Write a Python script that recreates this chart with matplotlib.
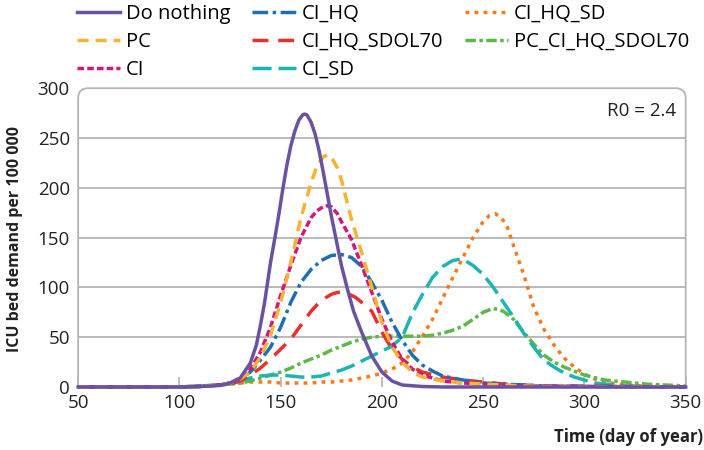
import numpy as np
import matplotlib
matplotlib.use("Agg")
import matplotlib.pyplot as plt
from matplotlib.path import Path
from matplotlib.patches import PathPatch

plt.rcParams['font.family'] = ['Open Sans', 'DejaVu Sans']

# ---- data (day of year, ICU beds per 100 000) ----
days_nothing = [50, 100, 110, 120, 125, 130, 135, 138, 140, 142, 145, 147, 149, 151, 153,
                155, 157, 159, 161, 162, 163, 165, 167, 169, 171, 173, 175, 177, 180, 183,
                186, 190, 195, 200, 205, 210, 220, 230, 350]
do_nothing = [0, 0, 0.5, 1.5, 4, 9, 24, 42, 62, 84, 125, 148, 172, 198, 222,
              242, 257, 268, 273.5, 274, 273, 266, 254, 237, 216, 194, 172, 152, 122, 98,
              76, 55, 31, 15, 6, 2, 0.5, 0, 0]

days_pc = [50, 100, 110, 120, 125, 130, 135, 140, 145, 150, 155, 160, 165, 168, 171,
           173, 175, 178, 180, 185, 190, 195, 200, 205, 210, 215, 220, 230, 240, 250,
           260, 270, 280, 350]
pc = [0, 0, 0.5, 2, 4, 8, 15, 30, 52, 85, 125, 170, 205, 222, 231,
      233, 231, 220, 208, 168, 135, 100, 65, 40, 25, 15, 10, 6, 4, 3,
      2, 1, 0.5, 0]

days_ci = [50, 100, 110, 120, 125, 130, 135, 140, 145, 150, 155, 160, 165, 168, 171,
           173, 175, 178, 180, 185, 190, 195, 200, 205, 210, 215, 220, 230, 240, 250,
           260, 270, 350]
ci = [0, 0, 0.5, 2, 4, 9, 18, 35, 60, 92, 122, 150, 170, 177, 181,
      182, 181, 174, 166, 148, 122, 95, 68, 45, 28, 18, 12, 6, 4, 3,
      2, 1, 0]

days_ci_hq = [50, 100, 110, 120, 125, 130, 135, 140, 145, 150, 155, 160, 165, 170, 175,
              180, 185, 190, 195, 200, 205, 210, 215, 220, 225, 230, 240, 250, 260, 270,
              280, 350]
ci_hq = [0, 0, 0.5, 2, 4, 8, 15, 27, 40, 60, 85, 105, 118, 127, 132,
         133, 130, 121, 105, 87, 65, 47, 32, 22, 16, 11, 7, 4, 3, 2,
         1, 0]

days_sdol70 = [50, 100, 110, 120, 125, 130, 135, 140, 145, 150, 155, 160, 165, 170, 175,
               178, 181, 184, 187, 190, 195, 200, 205, 210, 215, 220, 230, 240, 250, 260,
               270, 280, 350]
ci_hq_sdol70 = [0, 0, 0.5, 2, 3, 6, 12, 19, 28, 38, 48, 62, 76, 87, 93,
                95, 95, 93, 90, 85, 76, 55, 38, 28, 20, 15, 10, 7, 5, 3,
                2, 1, 0]

days_ci_sd = [50, 100, 110, 120, 125, 130, 135, 140, 145, 150, 155, 160, 165, 170, 175,
              180, 185, 190, 195, 200, 205, 210, 215, 220, 225, 230, 235, 238, 241, 245,
              250, 255, 260, 265, 270, 275, 280, 285, 290, 295, 300, 305, 310, 320, 330,
              350]
ci_sd = [0, 0, 1, 2, 4, 6, 9, 11, 12, 12, 11, 10, 10, 11, 14,
         17, 21, 26, 31, 36, 41, 50, 74, 93, 110, 121, 127, 128, 127, 122,
         113, 100, 85, 70, 54, 40, 27, 20, 14, 10, 7, 4, 3, 1, 0.5,
         0]

days_ci_hq_sd = [50, 100, 110, 120, 130, 135, 140, 145, 150, 155, 160, 165, 170, 175, 180,
                 185, 190, 195, 200, 205, 210, 215, 220, 225, 230, 235, 240, 245, 250, 253,
                 256, 259, 262, 265, 270, 275, 280, 285, 290, 295, 300, 305, 310, 320, 330,
                 340, 350]
ci_hq_sd = [0, 0, 1, 2, 4, 5, 5, 5, 4, 4, 4, 4, 5, 5, 6,
            7, 9, 11, 14, 18, 24, 35, 51, 68, 89, 110, 130, 150, 166, 172,
            174, 170, 160, 142, 113, 80, 58, 42, 29, 20, 13, 8, 5, 2, 1,
            0.5, 0]

days_pc_sdol70 = [50, 100, 110, 120, 130, 135, 140, 145, 150, 155, 160, 165, 170, 175, 180,
                  185, 190, 195, 200, 205, 210, 215, 220, 225, 230, 235, 240, 245, 250, 255,
                  260, 265, 270, 275, 280, 285, 290, 295, 300, 310, 320, 330, 340, 350]
pc_ci_hq_sdol70 = [0, 0, 1, 2, 4, 6, 9, 12, 15, 19, 24, 28, 32, 37, 41,
                   45, 48, 50, 51, 51, 51, 51, 51, 52, 54, 57, 61, 68, 75, 79,
                   76, 68, 55, 43, 32, 25, 20, 16, 12, 7, 5, 3, 2, 1]

series = [
    ("Do nothing", days_nothing, do_nothing, "#6a52a3", "-"),
    ("PC", days_pc, pc, "#f9b233", (0, (3.2, 2.0))),
    ("CI", days_ci, ci, "#d4147f", (0, (1.9, 0.9))),
    ("CI_HQ", days_ci_hq, ci_hq, "#1f6fb5", (0, (4.5, 1.3, 1.0, 1.3))),
    ("CI_HQ_SDOL70", days_sdol70, ci_hq_sdol70, "#e8312f", (0, (4.6, 2.8))),
    ("CI_SD", days_ci_sd, ci_sd, "#1db5b3", (0, (5.5, 2.0))),
    ("CI_HQ_SD", days_ci_hq_sd, ci_hq_sd, "#f47b20", (0, (1.1, 1.5))),
    ("PC_CI_HQ_SDOL70", days_pc_sdol70, pc_ci_hq_sdol70, "#5cb946", (0, (3.0, 1.0, 1.0, 1.0))),
]
draw_order = ["CI_HQ_SD", "PC_CI_HQ_SDOL70", "CI_SD", "CI_HQ_SDOL70", "CI_HQ", "CI", "PC", "Do nothing"]

fig = plt.figure(figsize=(7.04, 4.5), dpi=100)
ax = fig.add_axes([0.111, 0.14, 0.863, 0.664])

handles = {}
for name, d, v, col, ls in series:
    z = 3 + draw_order.index(name)
    ln, = ax.plot(d, v, color=col, ls=ls, lw=2.5, label=name, zorder=z, clip_on=False)
    handles[name] = ln

ax.set_xlim(50, 350)
ax.set_ylim(0, 300)
ax.set_xticks(range(50, 351, 50))
ax.set_yticks(range(0, 301, 50))
for y in range(50, 300, 50):
    ax.axhline(y, color="#b4b4b4", lw=1.3, zorder=1)

for s in ax.spines.values():
    s.set_visible(False)

# frame with rounded top corners
rx, ry = 10 / 608, 10 / 299
verts = [(0, 0), (0, 1 - ry), (0, 1), (rx, 1), (1 - rx, 1), (1, 1), (1, 1 - ry), (1, 0)]
codes = [Path.MOVETO, Path.LINETO, Path.CURVE3, Path.CURVE3, Path.LINETO,
         Path.CURVE3, Path.CURVE3, Path.LINETO]
ax.add_patch(PathPatch(Path(verts, codes), transform=ax.transAxes, fill=False,
                       edgecolor="#b4b4b4", lw=1.3, zorder=1, clip_on=False))

ax.tick_params(axis="y", length=0, pad=6, labelsize=13.5, labelcolor="#222222")
ax.tick_params(axis="x", direction="in", length=7, width=1.2, color="#b4b4b4",
               pad=5, labelsize=13.5, labelcolor="#222222")

ax.text(0.985, 0.955, "R0 = 2.4", transform=ax.transAxes, ha="right", va="top",
        fontsize=13.5, color="#222222")

fig.text(0.022, 0.47, "ICU bed demand per 100 000", rotation=90, ha="center", va="center",
         fontsize=11.5, fontweight="bold", color="#222222")
fig.text(0.998, 0.008, "Time (day of year)", ha="right", va="bottom",
         fontsize=12, fontweight="bold", color="#222222")

leg = fig.legend([handles[n] for n, *_ in series], [n for n, *_ in series],
                 ncol=3, loc="upper left", bbox_to_anchor=(0.109, 0.992), frameon=False,
                 fontsize=14.5, handlelength=2.15, handletextpad=0.28, columnspacing=1.1,
                 labelspacing=0.4, borderpad=0, borderaxespad=0)

fig.savefig("out.png", dpi=100)
